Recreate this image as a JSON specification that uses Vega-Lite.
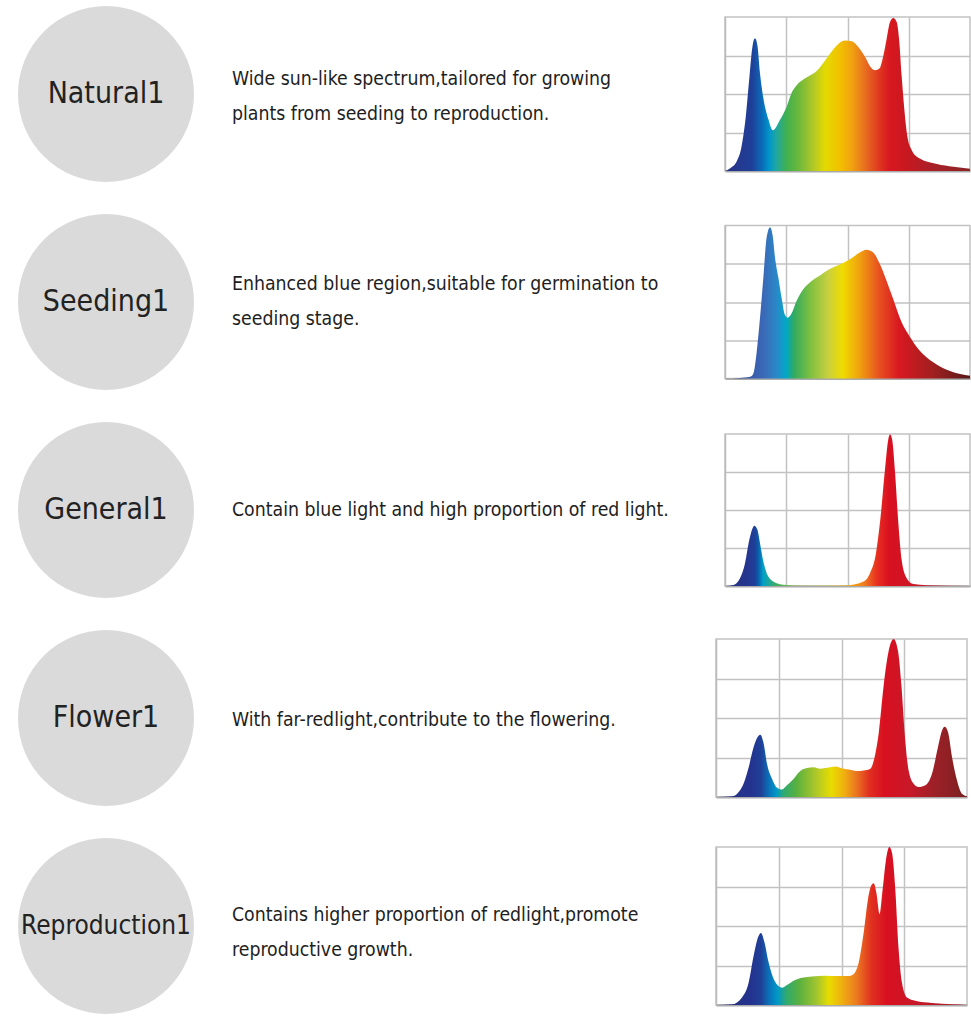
{
  "$schema": "https://vega.github.io/schema/vega-lite/v6.json",
  "background": "white",
  "padding": {"left": 0, "top": 4, "right": 0, "bottom": 0},
  "config": {"view": {"stroke": null}},
  "datasets": {
    "labels": [
      {"name": "Natural1", "desc": "Wide sun-like spectrum,tailored for growing\nplants from seeding to reproduction."},
      {"name": "Seeding1", "desc": "Enhanced blue region,suitable for germination to\nseeding stage."},
      {"name": "General1", "desc": "Contain blue light and high proportion of red light."},
      {"name": "Flower1", "desc": "With far-redlight,contribute to the flowering."},
      {"name": "Reproduction1", "desc": "Contains higher proportion of redlight,promote\nreproductive growth."}
    ],
    "spectra": [
      {"spec": "Natural1", "nm": 380, "v": 0},
      {"spec": "Natural1", "nm": 388, "v": 0.017},
      {"spec": "Natural1", "nm": 399, "v": 0.061},
      {"spec": "Natural1", "nm": 407, "v": 0.159},
      {"spec": "Natural1", "nm": 414, "v": 0.356},
      {"spec": "Natural1", "nm": 420, "v": 0.616},
      {"spec": "Natural1", "nm": 425, "v": 0.814},
      {"spec": "Natural1", "nm": 429, "v": 0.862},
      {"spec": "Natural1", "nm": 433, "v": 0.814},
      {"spec": "Natural1", "nm": 437, "v": 0.64},
      {"spec": "Natural1", "nm": 443, "v": 0.465},
      {"spec": "Natural1", "nm": 451, "v": 0.334},
      {"spec": "Natural1", "nm": 458, "v": 0.264},
      {"spec": "Natural1", "nm": 470, "v": 0.334},
      {"spec": "Natural1", "nm": 481, "v": 0.421},
      {"spec": "Natural1", "nm": 489, "v": 0.509},
      {"spec": "Natural1", "nm": 497, "v": 0.557},
      {"spec": "Natural1", "nm": 513, "v": 0.607},
      {"spec": "Natural1", "nm": 530, "v": 0.651},
      {"spec": "Natural1", "nm": 541, "v": 0.705},
      {"spec": "Natural1", "nm": 551, "v": 0.76},
      {"spec": "Natural1", "nm": 565, "v": 0.825},
      {"spec": "Natural1", "nm": 576, "v": 0.847},
      {"spec": "Natural1", "nm": 587, "v": 0.843},
      {"spec": "Natural1", "nm": 598, "v": 0.803},
      {"spec": "Natural1", "nm": 609, "v": 0.738},
      {"spec": "Natural1", "nm": 617, "v": 0.679},
      {"spec": "Natural1", "nm": 625, "v": 0.655},
      {"spec": "Natural1", "nm": 632, "v": 0.666},
      {"spec": "Natural1", "nm": 638.5, "v": 0.749},
      {"spec": "Natural1", "nm": 644, "v": 0.86},
      {"spec": "Natural1", "nm": 649.4, "v": 0.967},
      {"spec": "Natural1", "nm": 654.8, "v": 0.993},
      {"spec": "Natural1", "nm": 660.3, "v": 0.967},
      {"spec": "Natural1", "nm": 664.6, "v": 0.836},
      {"spec": "Natural1", "nm": 668.4, "v": 0.618},
      {"spec": "Natural1", "nm": 672.8, "v": 0.4},
      {"spec": "Natural1", "nm": 677.7, "v": 0.225},
      {"spec": "Natural1", "nm": 685, "v": 0.135},
      {"spec": "Natural1", "nm": 698, "v": 0.081},
      {"spec": "Natural1", "nm": 726, "v": 0.046},
      {"spec": "Natural1", "nm": 753, "v": 0.028},
      {"spec": "Natural1", "nm": 780, "v": 0.015},

      {"spec": "Seeding1", "nm": 380, "v": 0},
      {"spec": "Seeding1", "nm": 404, "v": 0.004},
      {"spec": "Seeding1", "nm": 421, "v": 0.012},
      {"spec": "Seeding1", "nm": 426, "v": 0.03},
      {"spec": "Seeding1", "nm": 431.7, "v": 0.172},
      {"spec": "Seeding1", "nm": 437.1, "v": 0.393},
      {"spec": "Seeding1", "nm": 442.6, "v": 0.658},
      {"spec": "Seeding1", "nm": 448, "v": 0.923},
      {"spec": "Seeding1", "nm": 453.5, "v": 0.989},
      {"spec": "Seeding1", "nm": 457.8, "v": 0.934},
      {"spec": "Seeding1", "nm": 461.6, "v": 0.792},
      {"spec": "Seeding1", "nm": 467.1, "v": 0.66},
      {"spec": "Seeding1", "nm": 472.5, "v": 0.525},
      {"spec": "Seeding1", "nm": 478, "v": 0.415},
      {"spec": "Seeding1", "nm": 482.3, "v": 0.397},
      {"spec": "Seeding1", "nm": 488.8, "v": 0.426},
      {"spec": "Seeding1", "nm": 497, "v": 0.508},
      {"spec": "Seeding1", "nm": 508, "v": 0.585},
      {"spec": "Seeding1", "nm": 519, "v": 0.629},
      {"spec": "Seeding1", "nm": 535, "v": 0.673},
      {"spec": "Seeding1", "nm": 551, "v": 0.715},
      {"spec": "Seeding1", "nm": 568, "v": 0.746},
      {"spec": "Seeding1", "nm": 584, "v": 0.779},
      {"spec": "Seeding1", "nm": 600, "v": 0.823},
      {"spec": "Seeding1", "nm": 611, "v": 0.841},
      {"spec": "Seeding1", "nm": 622, "v": 0.823},
      {"spec": "Seeding1", "nm": 633, "v": 0.746},
      {"spec": "Seeding1", "nm": 644, "v": 0.636},
      {"spec": "Seeding1", "nm": 655, "v": 0.514},
      {"spec": "Seeding1", "nm": 668, "v": 0.371},
      {"spec": "Seeding1", "nm": 682, "v": 0.272},
      {"spec": "Seeding1", "nm": 698, "v": 0.182},
      {"spec": "Seeding1", "nm": 720, "v": 0.106},
      {"spec": "Seeding1", "nm": 742, "v": 0.057},
      {"spec": "Seeding1", "nm": 764, "v": 0.029},
      {"spec": "Seeding1", "nm": 780, "v": 0.018},

      {"spec": "General1", "nm": 380, "v": 0},
      {"spec": "General1", "nm": 394, "v": 0.007},
      {"spec": "General1", "nm": 404.5, "v": 0.051},
      {"spec": "General1", "nm": 412.7, "v": 0.15},
      {"spec": "General1", "nm": 419.7, "v": 0.305},
      {"spec": "General1", "nm": 425.2, "v": 0.382},
      {"spec": "General1", "nm": 427.9, "v": 0.397},
      {"spec": "General1", "nm": 432.8, "v": 0.371},
      {"spec": "General1", "nm": 437.1, "v": 0.283},
      {"spec": "General1", "nm": 442.6, "v": 0.161},
      {"spec": "General1", "nm": 450.7, "v": 0.062},
      {"spec": "General1", "nm": 464.4, "v": 0.018},
      {"spec": "General1", "nm": 475, "v": 0.009},
      {"spec": "General1", "nm": 508, "v": 0.002},
      {"spec": "General1", "nm": 579, "v": 0.004},
      {"spec": "General1", "nm": 605.9, "v": 0.029},
      {"spec": "General1", "nm": 616.7, "v": 0.084},
      {"spec": "General1", "nm": 626.5, "v": 0.216},
      {"spec": "General1", "nm": 634.1, "v": 0.459},
      {"spec": "General1", "nm": 641.2, "v": 0.768},
      {"spec": "General1", "nm": 646.7, "v": 0.967},
      {"spec": "General1", "nm": 649.4, "v": 0.996},
      {"spec": "General1", "nm": 652.7, "v": 0.967},
      {"spec": "General1", "nm": 657.6, "v": 0.746},
      {"spec": "General1", "nm": 663, "v": 0.415},
      {"spec": "General1", "nm": 668.4, "v": 0.172},
      {"spec": "General1", "nm": 676.6, "v": 0.051},
      {"spec": "General1", "nm": 687.5, "v": 0.013},
      {"spec": "General1", "nm": 709, "v": 0.005},
      {"spec": "General1", "nm": 780, "v": 0},

      {"spec": "Flower1", "nm": 380, "v": 0},
      {"spec": "Flower1", "nm": 405.5, "v": 0.004},
      {"spec": "Flower1", "nm": 421.4, "v": 0.063},
      {"spec": "Flower1", "nm": 432.1, "v": 0.189},
      {"spec": "Flower1", "nm": 440, "v": 0.316},
      {"spec": "Flower1", "nm": 446.9, "v": 0.383},
      {"spec": "Flower1", "nm": 450.7, "v": 0.394},
      {"spec": "Flower1", "nm": 456, "v": 0.337},
      {"spec": "Flower1", "nm": 461.3, "v": 0.211},
      {"spec": "Flower1", "nm": 469.2, "v": 0.116},
      {"spec": "Flower1", "nm": 477.2, "v": 0.059},
      {"spec": "Flower1", "nm": 485.2, "v": 0.048},
      {"spec": "Flower1", "nm": 493.1, "v": 0.074},
      {"spec": "Flower1", "nm": 503.8, "v": 0.116},
      {"spec": "Flower1", "nm": 514.4, "v": 0.164},
      {"spec": "Flower1", "nm": 525, "v": 0.183},
      {"spec": "Flower1", "nm": 535.6, "v": 0.189},
      {"spec": "Flower1", "nm": 546.3, "v": 0.179},
      {"spec": "Flower1", "nm": 556.9, "v": 0.185},
      {"spec": "Flower1", "nm": 570.2, "v": 0.193},
      {"spec": "Flower1", "nm": 583.5, "v": 0.179},
      {"spec": "Flower1", "nm": 594.1, "v": 0.173},
      {"spec": "Flower1", "nm": 604.7, "v": 0.164},
      {"spec": "Flower1", "nm": 615.3, "v": 0.168},
      {"spec": "Flower1", "nm": 626, "v": 0.179},
      {"spec": "Flower1", "nm": 633.9, "v": 0.274},
      {"spec": "Flower1", "nm": 639.2, "v": 0.4},
      {"spec": "Flower1", "nm": 647.2, "v": 0.705},
      {"spec": "Flower1", "nm": 655.2, "v": 0.926},
      {"spec": "Flower1", "nm": 663.1, "v": 1.0},
      {"spec": "Flower1", "nm": 670, "v": 0.926},
      {"spec": "Flower1", "nm": 675.3, "v": 0.716},
      {"spec": "Flower1", "nm": 680.7, "v": 0.4},
      {"spec": "Flower1", "nm": 687, "v": 0.168},
      {"spec": "Flower1", "nm": 695, "v": 0.084},
      {"spec": "Flower1", "nm": 703, "v": 0.063},
      {"spec": "Flower1", "nm": 713.6, "v": 0.074},
      {"spec": "Flower1", "nm": 724.2, "v": 0.147},
      {"spec": "Flower1", "nm": 733.8, "v": 0.316},
      {"spec": "Flower1", "nm": 740.2, "v": 0.421},
      {"spec": "Flower1", "nm": 744.4, "v": 0.444},
      {"spec": "Flower1", "nm": 749.7, "v": 0.411},
      {"spec": "Flower1", "nm": 756.1, "v": 0.253},
      {"spec": "Flower1", "nm": 764.1, "v": 0.105},
      {"spec": "Flower1", "nm": 772, "v": 0.021},
      {"spec": "Flower1", "nm": 780, "v": 0.004},

      {"spec": "Reproduction1", "nm": 380, "v": 0},
      {"spec": "Reproduction1", "nm": 405.5, "v": 0.004},
      {"spec": "Reproduction1", "nm": 421.4, "v": 0.048},
      {"spec": "Reproduction1", "nm": 432.1, "v": 0.143},
      {"spec": "Reproduction1", "nm": 440, "v": 0.311},
      {"spec": "Reproduction1", "nm": 446.9, "v": 0.427},
      {"spec": "Reproduction1", "nm": 451.7, "v": 0.455},
      {"spec": "Reproduction1", "nm": 457, "v": 0.4},
      {"spec": "Reproduction1", "nm": 463.9, "v": 0.269},
      {"spec": "Reproduction1", "nm": 471.9, "v": 0.164},
      {"spec": "Reproduction1", "nm": 479.9, "v": 0.118},
      {"spec": "Reproduction1", "nm": 485.2, "v": 0.109},
      {"spec": "Reproduction1", "nm": 493.1, "v": 0.126},
      {"spec": "Reproduction1", "nm": 503.8, "v": 0.154},
      {"spec": "Reproduction1", "nm": 517.1, "v": 0.172},
      {"spec": "Reproduction1", "nm": 533, "v": 0.181},
      {"spec": "Reproduction1", "nm": 554.2, "v": 0.185},
      {"spec": "Reproduction1", "nm": 575.5, "v": 0.183},
      {"spec": "Reproduction1", "nm": 591.4, "v": 0.183},
      {"spec": "Reproduction1", "nm": 599.4, "v": 0.196},
      {"spec": "Reproduction1", "nm": 607.4, "v": 0.269},
      {"spec": "Reproduction1", "nm": 615.3, "v": 0.457},
      {"spec": "Reproduction1", "nm": 622.2, "v": 0.67},
      {"spec": "Reproduction1", "nm": 627.5, "v": 0.758},
      {"spec": "Reproduction1", "nm": 631.3, "v": 0.771},
      {"spec": "Reproduction1", "nm": 635.5, "v": 0.712},
      {"spec": "Reproduction1", "nm": 640.8, "v": 0.575},
      {"spec": "Reproduction1", "nm": 645.6, "v": 0.733},
      {"spec": "Reproduction1", "nm": 650.9, "v": 0.92},
      {"spec": "Reproduction1", "nm": 656.2, "v": 1.0},
      {"spec": "Reproduction1", "nm": 660.5, "v": 0.964},
      {"spec": "Reproduction1", "nm": 665.7, "v": 0.733},
      {"spec": "Reproduction1", "nm": 671, "v": 0.354},
      {"spec": "Reproduction1", "nm": 676.3, "v": 0.143},
      {"spec": "Reproduction1", "nm": 684.3, "v": 0.048},
      {"spec": "Reproduction1", "nm": 697.7, "v": 0.027},
      {"spec": "Reproduction1", "nm": 724.2, "v": 0.013},
      {"spec": "Reproduction1", "nm": 756.1, "v": 0.004},
      {"spec": "Reproduction1", "nm": 780, "v": 0}
    ]
  },
  "spacing": 28,
  "vconcat": [
    {
      "spacing": 20, "center": true, "bounds": "flush",
      "hconcat": [
        {
          "width": 212, "height": 180,
          "data": {"name": "labels"},
          "transform": [{"filter": "datum.name === 'Natural1'"}],
          "layer": [
            {"mark": {"type": "point", "shape": "circle", "filled": true, "size": 30976, "color": "#dadada", "opacity": 1, "strokeWidth": 0}, "encoding": {}},
            {"mark": {"type": "text", "font": "DejaVu Sans Condensed, Roboto", "fontSize": 30, "color": "#222222"}, "encoding": {"text": {"field": "name"}}}
          ]
        },
        {
          "width": 473, "height": 180,
          "data": {"name": "labels"},
          "transform": [{"filter": "datum.name === 'Natural1'"}],
          "mark": {"type": "text", "align": "left", "baseline": "middle", "dy": -15, "font": "DejaVu Sans Condensed, Roboto", "fontSize": 19.3, "lineHeight": 35, "lineBreak": "\n", "color": "#1e1e1e"},
          "encoding": {"x": {"value": 0}, "text": {"field": "desc"}}
        },
        {
          "width": 245, "height": 154,
          "view": {"stroke": "#c2c2c2", "strokeWidth": 1.5},
          "data": {"name": "spectra"},
          "transform": [{"filter": "datum.spec === 'Natural1'"}],
          "mark": {"type": "area", "interpolate": "monotone", "color": {"gradient": "linear", "x1": 0, "x2": 1, "y1": 0, "y2": 0, "stops": [
            {"offset": 0, "color": "#283080"}, {"offset": 0.06, "color": "#243a90"}, {"offset": 0.11, "color": "#1f3f98"},
            {"offset": 0.15, "color": "#0a6ab8"}, {"offset": 0.18, "color": "#0095cc"}, {"offset": 0.21, "color": "#20a8a0"},
            {"offset": 0.25, "color": "#40b050"}, {"offset": 0.3, "color": "#6cb83c"}, {"offset": 0.36, "color": "#b0c828"},
            {"offset": 0.41, "color": "#e4da00"}, {"offset": 0.47, "color": "#f2c000"}, {"offset": 0.52, "color": "#f0a010"},
            {"offset": 0.57, "color": "#e87020"}, {"offset": 0.62, "color": "#e04020"}, {"offset": 0.67, "color": "#d81820"},
            {"offset": 0.74, "color": "#c81820"}, {"offset": 0.85, "color": "#a82028"}, {"offset": 1, "color": "#8a2424"}]}},
          "encoding": {
            "x": {"field": "nm", "type": "quantitative", "scale": {"domain": [380, 780], "nice": false, "zero": false}, "axis": {"values": [480, 580, 680], "grid": true, "labels": false, "ticks": false, "title": null, "domainColor": "#aaaaaa", "domainWidth": 2, "gridColor": "#c2c2c2", "gridWidth": 1.5}},
            "y": {"field": "v", "type": "quantitative", "scale": {"domain": [0, 1], "nice": false}, "axis": {"values": [0.25, 0.5, 0.75], "grid": true, "labels": false, "ticks": false, "title": null, "domainColor": "#bbbbbb", "domainWidth": 1.5, "gridColor": "#c2c2c2", "gridWidth": 1.5}}
          }
        }
      ]
    },
    {
      "spacing": 20, "center": true, "bounds": "flush",
      "hconcat": [
        {
          "width": 212, "height": 180,
          "data": {"name": "labels"},
          "transform": [{"filter": "datum.name === 'Seeding1'"}],
          "layer": [
            {"mark": {"type": "point", "shape": "circle", "filled": true, "size": 30976, "color": "#dadada", "opacity": 1, "strokeWidth": 0}, "encoding": {}},
            {"mark": {"type": "text", "font": "DejaVu Sans Condensed, Roboto", "fontSize": 30, "color": "#222222"}, "encoding": {"text": {"field": "name"}}}
          ]
        },
        {
          "width": 473, "height": 180,
          "data": {"name": "labels"},
          "transform": [{"filter": "datum.name === 'Seeding1'"}],
          "mark": {"type": "text", "align": "left", "baseline": "middle", "dy": -18, "font": "DejaVu Sans Condensed, Roboto", "fontSize": 19.3, "lineHeight": 35, "lineBreak": "\n", "color": "#1e1e1e"},
          "encoding": {"x": {"value": 0}, "text": {"field": "desc"}}
        },
        {
          "width": 245, "height": 153,
          "view": {"stroke": "#c2c2c2", "strokeWidth": 1.5},
          "data": {"name": "spectra"},
          "transform": [{"filter": "datum.spec === 'Seeding1'"}],
          "mark": {"type": "area", "interpolate": "monotone", "color": {"gradient": "linear", "x1": 0, "x2": 1, "y1": 0, "y2": 0, "stops": [
            {"offset": 0, "color": "#203070"}, {"offset": 0.1, "color": "#3858a8"}, {"offset": 0.16, "color": "#3a6ab8"},
            {"offset": 0.21, "color": "#2a88c8"}, {"offset": 0.25, "color": "#00a8c8"}, {"offset": 0.28, "color": "#30aa60"},
            {"offset": 0.35, "color": "#80c040"}, {"offset": 0.42, "color": "#c8d040"}, {"offset": 0.48, "color": "#f0dc00"},
            {"offset": 0.55, "color": "#f0a010"}, {"offset": 0.63, "color": "#e85020"}, {"offset": 0.71, "color": "#d81820"},
            {"offset": 0.85, "color": "#a02020"}, {"offset": 1, "color": "#581818"}]}},
          "encoding": {
            "x": {"field": "nm", "type": "quantitative", "scale": {"domain": [380, 780], "nice": false, "zero": false}, "axis": {"values": [480, 580, 680], "grid": true, "labels": false, "ticks": false, "title": null, "domainColor": "#aaaaaa", "domainWidth": 2, "gridColor": "#c2c2c2", "gridWidth": 1.5}},
            "y": {"field": "v", "type": "quantitative", "scale": {"domain": [0, 1], "nice": false}, "axis": {"values": [0.25, 0.5, 0.75], "grid": true, "labels": false, "ticks": false, "title": null, "domainColor": "#bbbbbb", "domainWidth": 1.5, "gridColor": "#c2c2c2", "gridWidth": 1.5}}
          }
        }
      ]
    },
    {
      "spacing": 20, "center": true, "bounds": "flush",
      "hconcat": [
        {
          "width": 212, "height": 180,
          "data": {"name": "labels"},
          "transform": [{"filter": "datum.name === 'General1'"}],
          "layer": [
            {"mark": {"type": "point", "shape": "circle", "filled": true, "size": 30976, "color": "#dadada", "opacity": 1, "strokeWidth": 0}, "encoding": {}},
            {"mark": {"type": "text", "font": "DejaVu Sans Condensed, Roboto", "fontSize": 30, "color": "#222222"}, "encoding": {"text": {"field": "name"}}}
          ]
        },
        {
          "width": 473, "height": 180,
          "data": {"name": "labels"},
          "transform": [{"filter": "datum.name === 'General1'"}],
          "mark": {"type": "text", "align": "left", "baseline": "middle", "font": "DejaVu Sans Condensed, Roboto", "fontSize": 19.3, "lineHeight": 35, "lineBreak": "\n", "color": "#1e1e1e"},
          "encoding": {"x": {"value": 0}, "text": {"field": "desc"}}
        },
        {
          "width": 245, "height": 152,
          "view": {"stroke": "#c2c2c2", "strokeWidth": 1.5},
          "data": {"name": "spectra"},
          "transform": [{"filter": "datum.spec === 'General1'"}],
          "mark": {"type": "area", "interpolate": "monotone", "color": {"gradient": "linear", "x1": 0, "x2": 1, "y1": 0, "y2": 0, "stops": [
            {"offset": 0, "color": "#283080"}, {"offset": 0.09, "color": "#24358f"}, {"offset": 0.12, "color": "#1f3f98"},
            {"offset": 0.135, "color": "#0a5aa8"}, {"offset": 0.155, "color": "#00a0c8"}, {"offset": 0.21, "color": "#40b060"},
            {"offset": 0.3, "color": "#90c040"}, {"offset": 0.42, "color": "#e8d800"}, {"offset": 0.52, "color": "#f0a010"},
            {"offset": 0.565, "color": "#f08020"}, {"offset": 0.62, "color": "#e83020"}, {"offset": 0.67, "color": "#d81020"},
            {"offset": 0.8, "color": "#c81828"}, {"offset": 1, "color": "#a02028"}]}},
          "encoding": {
            "x": {"field": "nm", "type": "quantitative", "scale": {"domain": [380, 780], "nice": false, "zero": false}, "axis": {"values": [480, 580, 680], "grid": true, "labels": false, "ticks": false, "title": null, "domainColor": "#aaaaaa", "domainWidth": 2, "gridColor": "#c2c2c2", "gridWidth": 1.5}},
            "y": {"field": "v", "type": "quantitative", "scale": {"domain": [0, 1], "nice": false}, "axis": {"values": [0.25, 0.5, 0.75], "grid": true, "labels": false, "ticks": false, "title": null, "domainColor": "#bbbbbb", "domainWidth": 1.5, "gridColor": "#c2c2c2", "gridWidth": 1.5}}
          }
        }
      ]
    },
    {
      "spacing": 20, "center": true, "bounds": "flush",
      "hconcat": [
        {
          "width": 212, "height": 180,
          "data": {"name": "labels"},
          "transform": [{"filter": "datum.name === 'Flower1'"}],
          "layer": [
            {"mark": {"type": "point", "shape": "circle", "filled": true, "size": 30976, "color": "#dadada", "opacity": 1, "strokeWidth": 0}, "encoding": {}},
            {"mark": {"type": "text", "font": "DejaVu Sans Condensed, Roboto", "fontSize": 30, "color": "#222222"}, "encoding": {"text": {"field": "name"}}}
          ]
        },
        {
          "width": 464, "height": 180,
          "data": {"name": "labels"},
          "transform": [{"filter": "datum.name === 'Flower1'"}],
          "mark": {"type": "text", "align": "left", "baseline": "middle", "dy": 2, "font": "DejaVu Sans Condensed, Roboto", "fontSize": 19.3, "lineHeight": 35, "lineBreak": "\n", "color": "#1e1e1e"},
          "encoding": {"x": {"value": 0}, "text": {"field": "desc"}}
        },
        {
          "width": 251, "height": 158,
          "view": {"stroke": "#c2c2c2", "strokeWidth": 1.5},
          "data": {"name": "spectra"},
          "transform": [{"filter": "datum.spec === 'Flower1'"}],
          "mark": {"type": "area", "interpolate": "monotone", "color": {"gradient": "linear", "x1": 0, "x2": 1, "y1": 0, "y2": 0, "stops": [
            {"offset": 0, "color": "#283080"}, {"offset": 0.14, "color": "#23338e"}, {"offset": 0.18, "color": "#1f4098"},
            {"offset": 0.21, "color": "#0a70b8"}, {"offset": 0.24, "color": "#0098c8"}, {"offset": 0.27, "color": "#30aa70"},
            {"offset": 0.32, "color": "#58b040"}, {"offset": 0.4, "color": "#b0c828"}, {"offset": 0.46, "color": "#e8dc00"},
            {"offset": 0.51, "color": "#f0b010"}, {"offset": 0.555, "color": "#ec7a20"}, {"offset": 0.61, "color": "#e03020"},
            {"offset": 0.67, "color": "#d81020"}, {"offset": 0.77, "color": "#c81828"}, {"offset": 0.86, "color": "#a02028"},
            {"offset": 1, "color": "#7a2020"}]}},
          "encoding": {
            "x": {"field": "nm", "type": "quantitative", "scale": {"domain": [380, 780], "nice": false, "zero": false}, "axis": {"values": [480, 580, 680], "grid": true, "labels": false, "ticks": false, "title": null, "domainColor": "#aaaaaa", "domainWidth": 2, "gridColor": "#c2c2c2", "gridWidth": 1.5}},
            "y": {"field": "v", "type": "quantitative", "scale": {"domain": [0, 1], "nice": false}, "axis": {"values": [0.25, 0.5, 0.75], "grid": true, "labels": false, "ticks": false, "title": null, "domainColor": "#bbbbbb", "domainWidth": 1.5, "gridColor": "#c2c2c2", "gridWidth": 1.5}}
          }
        }
      ]
    },
    {
      "spacing": 20, "center": true, "bounds": "flush",
      "hconcat": [
        {
          "width": 212, "height": 180,
          "data": {"name": "labels"},
          "transform": [{"filter": "datum.name === 'Reproduction1'"}],
          "layer": [
            {"mark": {"type": "point", "shape": "circle", "filled": true, "size": 30976, "color": "#dadada", "opacity": 1, "strokeWidth": 0}, "encoding": {}},
            {"mark": {"type": "text", "font": "DejaVu Sans Condensed, Roboto", "fontSize": 26, "color": "#222222"}, "encoding": {"text": {"field": "name"}}}
          ]
        },
        {
          "width": 464, "height": 180,
          "data": {"name": "labels"},
          "transform": [{"filter": "datum.name === 'Reproduction1'"}],
          "mark": {"type": "text", "align": "left", "baseline": "middle", "dy": -11, "font": "DejaVu Sans Condensed, Roboto", "fontSize": 19.3, "lineHeight": 35, "lineBreak": "\n", "color": "#1e1e1e"},
          "encoding": {"x": {"value": 0}, "text": {"field": "desc"}}
        },
        {
          "width": 251, "height": 158,
          "view": {"stroke": "#c2c2c2", "strokeWidth": 1.5},
          "data": {"name": "spectra"},
          "transform": [{"filter": "datum.spec === 'Reproduction1'"}],
          "mark": {"type": "area", "interpolate": "monotone", "color": {"gradient": "linear", "x1": 0, "x2": 1, "y1": 0, "y2": 0, "stops": [
            {"offset": 0, "color": "#283080"}, {"offset": 0.14, "color": "#23338e"}, {"offset": 0.18, "color": "#1f4098"},
            {"offset": 0.21, "color": "#0a70b8"}, {"offset": 0.245, "color": "#0098c8"}, {"offset": 0.28, "color": "#30aa70"},
            {"offset": 0.33, "color": "#58b040"}, {"offset": 0.4, "color": "#a0c430"}, {"offset": 0.45, "color": "#e8dc00"},
            {"offset": 0.5, "color": "#f0b010"}, {"offset": 0.56, "color": "#ec7a20"}, {"offset": 0.62, "color": "#e03020"},
            {"offset": 0.68, "color": "#d81020"}, {"offset": 0.8, "color": "#c81828"}, {"offset": 1, "color": "#a01c24"}]}},
          "encoding": {
            "x": {"field": "nm", "type": "quantitative", "scale": {"domain": [380, 780], "nice": false, "zero": false}, "axis": {"values": [480, 580, 680], "grid": true, "labels": false, "ticks": false, "title": null, "domainColor": "#aaaaaa", "domainWidth": 2, "gridColor": "#c2c2c2", "gridWidth": 1.5}},
            "y": {"field": "v", "type": "quantitative", "scale": {"domain": [0, 1], "nice": false}, "axis": {"values": [0.25, 0.5, 0.75], "grid": true, "labels": false, "ticks": false, "title": null, "domainColor": "#bbbbbb", "domainWidth": 1.5, "gridColor": "#c2c2c2", "gridWidth": 1.5}}
          }
        }
      ]
    }
  ]
}
